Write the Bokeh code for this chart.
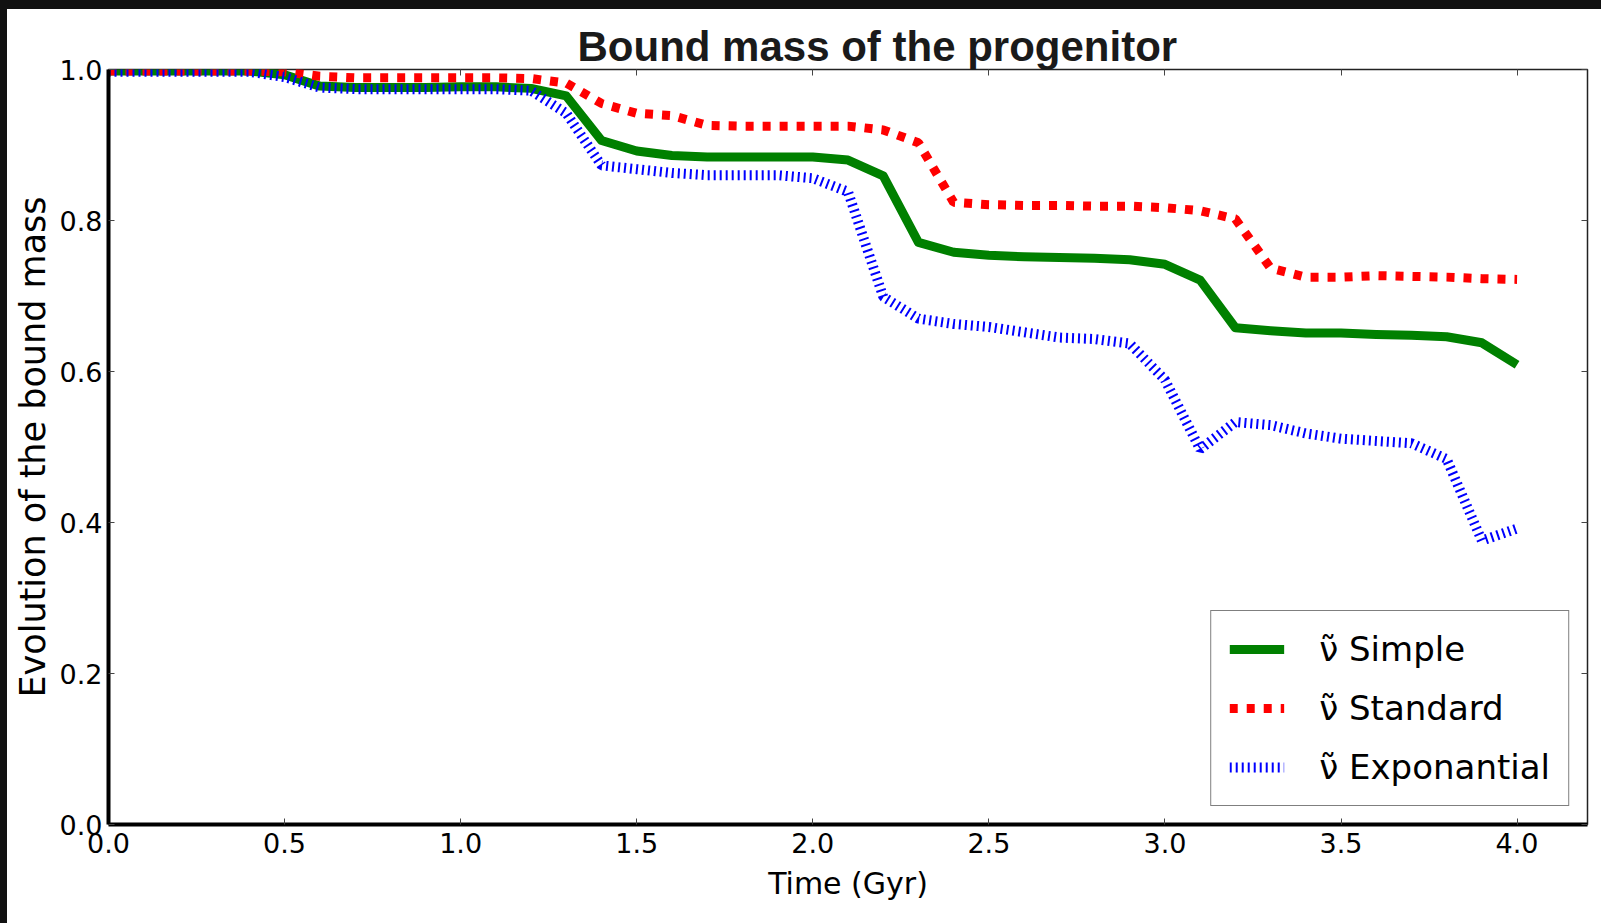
from bokeh.plotting import figure
from bokeh.models import LinearAxis, PrintfTickFormatter, CustomLabelingPolicy, Div
from bokeh.layouts import column, row
from bokeh.embed import file_html
from bokeh.resources import INLINE

# ---- data ----
time = [0.0, 0.1, 0.2, 0.3, 0.4, 0.5, 0.6, 0.7, 0.8, 0.9,
        1.0, 1.1, 1.2, 1.3, 1.4, 1.5, 1.6, 1.7, 1.8, 1.9,
        2.0, 2.1, 2.2, 2.3, 2.4, 2.5, 2.6, 2.7, 2.8, 2.9,
        3.0, 3.1, 3.2, 3.3, 3.4, 3.5, 3.6, 3.7, 3.8, 3.9, 4.0]

simple = [0.998, 0.998, 0.998, 0.998, 0.998, 0.993, 0.978, 0.976, 0.976, 0.976,
          0.977, 0.977, 0.975, 0.965, 0.906, 0.892, 0.886, 0.884, 0.884, 0.884,
          0.884, 0.880, 0.859, 0.771, 0.758, 0.754, 0.752, 0.751, 0.750, 0.748,
          0.742, 0.721, 0.658, 0.654, 0.651, 0.651, 0.649, 0.648, 0.646, 0.638, 0.609]

standard = [0.998, 0.998, 0.998, 0.998, 0.998, 0.997, 0.991, 0.989, 0.989, 0.989,
            0.989, 0.989, 0.988, 0.982, 0.955, 0.942, 0.939, 0.926, 0.925, 0.925,
            0.925, 0.925, 0.920, 0.903, 0.824, 0.821, 0.820, 0.820, 0.819, 0.819,
            0.817, 0.813, 0.802, 0.737, 0.725, 0.725, 0.727, 0.726, 0.725, 0.723, 0.722]

exponantial = [0.997, 0.997, 0.997, 0.997, 0.997, 0.990, 0.976, 0.974, 0.974, 0.974,
               0.974, 0.974, 0.972, 0.942, 0.873, 0.868, 0.863, 0.860, 0.860, 0.860,
               0.856, 0.838, 0.699, 0.670, 0.663, 0.659, 0.652, 0.645, 0.643, 0.637,
               0.589, 0.497, 0.533, 0.529, 0.518, 0.511, 0.508, 0.505, 0.484, 0.376, 0.392]

x_ticks = [0.0, 0.5, 1.0, 1.5, 2.0, 2.5, 3.0, 3.5, 4.0]
y_ticks = [0.0, 0.2, 0.4, 0.6, 0.8, 1.0]

title_text = "Bound mass of the progenitor"
x_label = "Time (Gyr)"
y_label = "Evolution of the bound mass"
labels = ["\u03bd\u0303 Simple", "\u03bd\u0303 Standard", "\u03bd\u0303 Exponantial"]

# ---- figure ----
p = figure(width=1594, height=914, x_range=(0, 4.2), y_range=(0, 1),
           output_backend="svg", toolbar_location=None,
           min_border_left=101, min_border_right=14,
           min_border_top=60, min_border_bottom=99)
p.grid.visible = False
p.outline_line_color = "#222222"
p.outline_line_width = 1.5
p.background_fill_color = "white"
p.border_fill_color = "white"

p.title.text = title_text
p.title.text_font = "Liberation Sans"
p.title.text_font_style = "bold"
p.title.text_font_size = "42px"
p.title.text_color = "#1a1a1a"
p.title.align = "left"
p.title.offset = 469
p.title.standoff = 0

FONT = "DejaVu Sans"

def style_axis(ax, ticks, show_labels=True, line=True):
    ax.ticker = ticks
    ax.formatter = PrintfTickFormatter(format="%.1f")
    ax.major_tick_in = 6
    ax.major_tick_out = 0
    ax.minor_tick_in = 0
    ax.minor_tick_out = 0
    ax.major_tick_line_color = "#444444"
    ax.major_tick_line_width = 1
    if line:
        ax.axis_line_color = "black"
        ax.axis_line_width = 4
    else:
        ax.axis_line_color = None
    if show_labels:
        ax.major_label_text_font = FONT
        ax.major_label_text_font_size = "27px"
        ax.major_label_text_color = "black"
    else:
        ax.major_label_text_font_size = "0px"
        ax.major_label_standoff = 0
        ax.major_label_policy = CustomLabelingPolicy(
            code="for (const i of indices) { indices.unset(i) }\nreturn indices")

xa = p.xaxis[0]
ya = p.yaxis[0]
style_axis(xa, x_ticks)
style_axis(ya, y_ticks)
xa.major_label_standoff = 8
ya.major_label_standoff = 6
xa.axis_label = x_label
ya.axis_label = y_label
for ax, size in ((xa, "30px"), (ya, "35px")):
    ax.axis_label_text_font = FONT
    ax.axis_label_text_font_size = size
    ax.axis_label_text_font_style = "normal"
    ax.axis_label_text_color = "black"
xa.axis_label_standoff = 10
ya.axis_label_standoff = 4

ra = LinearAxis()
style_axis(ra, y_ticks, show_labels=False, line=False)
p.add_layout(ra, "right")
ta = LinearAxis()
style_axis(ta, x_ticks, show_labels=False, line=False)
p.add_layout(ta, "above")

# ---- series ----
p.line(time, simple, line_color="#008000", line_width=9, line_join="round",
       legend_label=labels[0])
p.line(time, standard, line_color="#ff0000", line_width=9, line_dash="8 9",
       legend_label=labels[1])
p.line(time, exponantial, line_color="#0000ff", line_width=10, line_dash="2 4",
       legend_label=labels[2])

lg = p.legend[0]
lg.location = "bottom_right"
lg.margin = 18
lg.padding = 18
lg.spacing = 19
lg.glyph_width = 55
lg.glyph_height = 40
lg.label_standoff = 35
lg.label_text_font = FONT
lg.label_text_font_size = "34px"
lg.label_text_color = "black"
lg.border_line_color = "black"
lg.border_line_width = 1.5
lg.background_fill_color = "white"
lg.background_fill_alpha = 1.0

# dark strips of the screenshot frame (top and left)
top_strip = Div(text="", width=1601, height=9, margin=0,
                styles={"background-color": "#111111"})
left_strip = Div(text="", width=7, height=914, margin=0,
                 styles={"background-color": "#111111"})
layout = column(top_strip, row(left_strip, p, spacing=0), spacing=0)

html = file_html(layout, INLINE)
open("out.html", "w").write(html)
